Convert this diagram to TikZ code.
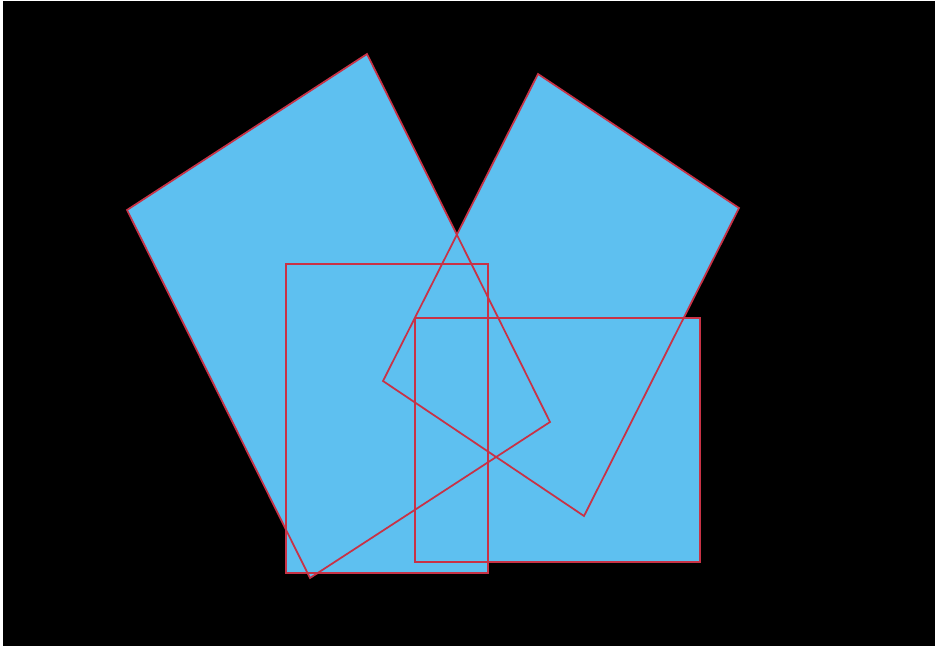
\documentclass[tikz,border=0pt]{standalone}
\definecolor{skyfill}{RGB}{94,192,240}
\definecolor{edgered}{RGB}{200,50,70}
\begin{document}
\begin{tikzpicture}[x=0.02cm,y=-0.02cm,
  shapefill/.style={fill=skyfill,draw=none},
  shapeedge/.style={draw=edgered,line width=0.035cm,line join=miter}]
\useasboundingbox (0,0) rectangle (935,645);
\fill[white] (0,0) rectangle (935,645);
\fill[black] (3,1) rectangle (940,650);
% corner points
\coordinate (a1) at (127,210);
\coordinate (a2) at (367,54);
\coordinate (a3) at (550,422);
\coordinate (a4) at (310,578);
\coordinate (b1) at (538,74);
\coordinate (b2) at (739,208);
\coordinate (b3) at (584,516);
\coordinate (b4) at (383,381);
\coordinate (r1) at (286,264);
\coordinate (r2) at (488,573);
\coordinate (s1) at (415,318);
\coordinate (s2) at (700,562);
% fills
\path[shapefill] (a1) -- (a2) -- (a3) -- (a4) -- cycle;
\path[shapefill] (b1) -- (b2) -- (b3) -- (b4) -- cycle;
\path[shapefill] (r1) rectangle (r2);
\path[shapefill] (s1) rectangle (s2);
% outlines
\draw[shapeedge] (a1) -- (a2) -- (a3) -- (a4) -- cycle;
\draw[shapeedge] (b1) -- (b2) -- (b3) -- (b4) -- cycle;
\draw[shapeedge] (r1) rectangle (r2);
\draw[shapeedge] (s1) rectangle (s2);
\end{tikzpicture}
\end{document}
